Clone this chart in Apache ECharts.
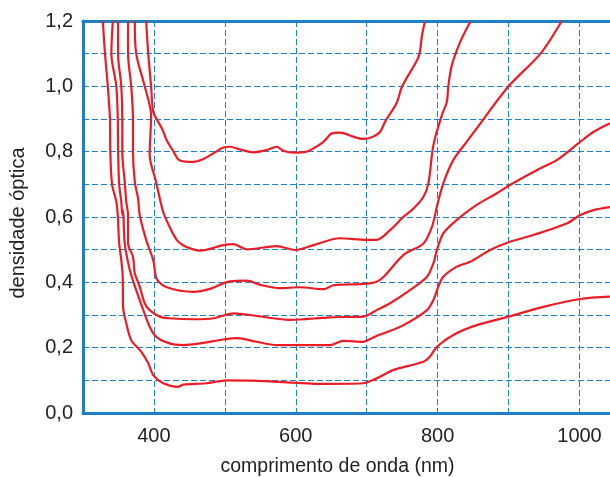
<!DOCTYPE html>
<html>
<head>
<meta charset="utf-8">
<script src="https://cdn.jsdelivr.net/npm/echarts@6/dist/echarts.min.js"></script>
<style>html,body{margin:0;padding:0;background:#fff;}#c{width:610px;height:477px;}</style>
</head>
<body>
<div id="c"></div>
<script>
// wavelength (nm), optical density
const curve1 = [[328,1.2],[331,1.1],[335,1.0],[338,0.9],[338.5,0.8],[341,0.70],[347,0.647],[349,0.606],[351,0.52],[354,0.468],[356,0.417],[356.5,0.325],[361,0.275],[368,0.223],[382,0.188],[392,0.152],[399,0.116],[413,0.091],[434,0.080],[441,0.087],[474,0.091],[503,0.100],[540,0.099],[596,0.093],[638,0.089],[695,0.091],[714,0.106],[738,0.132],[780,0.157],[789,0.172],[799,0.203],[822,0.239],[855,0.269],[900,0.295],[949,0.325],[1001,0.349],[1043,0.356]];
const curve2 = [[342,1.2],[340,1.1],[347,1.0],[349,0.9],[349.5,0.8],[351,0.70],[354,0.647],[355.5,0.606],[356.5,0.62],[358.8,0.519],[366,0.438],[375,0.376],[385,0.315],[394,0.264],[403,0.234],[422,0.213],[441,0.208],[465,0.213],[498,0.225],[517,0.229],[545,0.218],[573,0.208],[648,0.208],[667,0.221],[695,0.218],[707,0.229],[714,0.236],[724,0.244],[752,0.269],[785,0.315],[794,0.346],[801,0.387],[808,0.417],[827,0.448],[846,0.463],[874,0.499],[902,0.524],[935,0.545],[982,0.580],[1001,0.606],[1020,0.621],[1043,0.630]];
const curve3 = [[349.4,1.2],[349.4,1.1],[354,1.0],[355.4,0.9],[355.4,0.8],[359,0.703],[361,0.647],[363.5,0.606],[363.5,0.52],[370.5,0.478],[373,0.428],[380,0.387],[387,0.336],[394,0.315],[408,0.295],[422,0.290],[456,0.287],[484,0.290],[512,0.305],[545,0.297],[592,0.285],[648,0.293],[695,0.295],[702,0.300],[714,0.315],[733,0.336],[761,0.376],[785,0.417],[794,0.458],[799,0.499],[808,0.550],[827,0.591],[855,0.637],[883,0.672],[902,0.698],[945,0.749],[968,0.774],[1001,0.830],[1020,0.861],[1043,0.887]];
const curve4 = [[363.5,1.2],[363.5,1.1],[368,1.0],[370.5,0.9],[370.5,0.8],[373,0.708],[377.6,0.657],[380,0.606],[389,0.530],[399,0.468],[404,0.41],[418,0.385],[456,0.371],[479,0.380],[507,0.403],[531,0.405],[550,0.392],[578,0.382],[606,0.385],[639,0.379],[653,0.391],[695,0.395],[714,0.402],[724,0.417],[752,0.484],[780,0.519],[792,0.570],[799,0.632],[808,0.703],[822,0.774],[843,0.836],[855,0.871],[900,1.0],[945,1.1],[975,1.2]];
const curve5 = [[373,1.2],[375,1.1],[387,1.0],[396,0.912],[394,0.790],[403,0.708],[413,0.616],[422,0.570],[432,0.530],[440,0.515],[451,0.504],[465,0.497],[498,0.514],[512,0.517],[531,0.501],[573,0.511],[599,0.499],[625,0.514],[662,0.535],[700,0.530],[714,0.530],[733,0.560],[752,0.601],[766,0.626],[780,0.662],[787,0.703],[794,0.82],[806,0.912],[813,0.953],[815,1.0],[820,1.065],[832,1.137],[846,1.198]];
const curve6 = [[389,1.2],[392,1.1],[396,1.0],[399,0.922],[405,0.895],[412,0.868],[418,0.835],[426,0.806],[436,0.774],[455,0.769],[469,0.777],[484,0.795],[498,0.813],[507,0.815],[521,0.807],[540,0.798],[559,0.805],[573,0.815],[582.5,0.803],[597,0.797],[615,0.80],[625,0.81],[639,0.83],[651,0.856],[662,0.858],[681,0.846],[695,0.839],[709,0.846],[719,0.861],[726,0.892],[742,0.948],[750,1.0],[771,1.08],[775,1.106],[778,1.157],[782,1.198]];
const xTickLabels = [400, 600, 800, 1000];
const curves = [curve1, curve2, curve3, curve4, curve5, curve6];

const blue = '#1f7fc6';
const gridBlue = '#1a82cf';
const textFont = 'Liberation Sans, Arial, sans-serif';

const chart = echarts.init(document.getElementById('c'));
chart.setOption({
  animation: false,
  backgroundColor: '#fff',
  grid: { left: 83, right: 0, top: 21, bottom: 64, containLabel: false, outerBoundsMode: 'none' },
  xAxis: [{
    type: 'value', min: 300, max: 1043, interval: 100,
    name: 'comprimento de onda (nm)', nameLocation: 'middle', nameGap: 44,
    nameTextStyle: { fontFamily: textFont, fontSize: 19.5, color: '#222', padding: [0, 18, 0, 0] },
    axisLine: { show: true, lineStyle: { color: blue, width: 3 } },
    axisTick: { show: false },
    axisLabel: {
      fontFamily: textFont, fontSize: 20, color: '#222', margin: 13,
      showMinLabel: false, showMaxLabel: false,
      formatter: v => xTickLabels.indexOf(v) >= 0 ? String(v) : ''
    },
    splitLine: { show: true, showMinLine: false, showMaxLine: false, lineStyle: { color: gridBlue, type: [6, 3], width: 1 } }
  }, {
    type: 'value', position: 'top', min: 300, max: 1043,
    axisLine: { show: true, lineStyle: { color: blue, width: 3 } },
    axisTick: { show: false }, axisLabel: { show: false }, splitLine: { show: false }
  }],
  yAxis: {
    type: 'value', min: 0, max: 1.2, interval: 0.1,
    name: 'densidade óptica', nameLocation: 'middle', nameGap: 55, nameRotate: 90,
    nameTextStyle: { fontFamily: textFont, fontSize: 20, color: '#222', padding: [0, 12, 0, 0] },
    axisLine: { show: true, lineStyle: { color: blue, width: 3 } },
    axisTick: { show: false },
    axisLabel: {
      fontFamily: textFont, fontSize: 20, color: '#222', margin: 10,
      formatter: v => (Math.round(v * 10) % 2 === 0) ? v.toFixed(1).replace('.', ',') : ''
    },
    splitLine: { show: true, showMinLine: false, showMaxLine: false, lineStyle: { color: gridBlue, type: [6, 3], width: 1 } }
  },
  series: curves.map(d => ({
    type: 'line', data: d, showSymbol: false, smooth: 0.3, clip: true,
    lineStyle: { color: '#ec1c26', width: 2.2 }
  }))
});
</script>
</body>
</html>
